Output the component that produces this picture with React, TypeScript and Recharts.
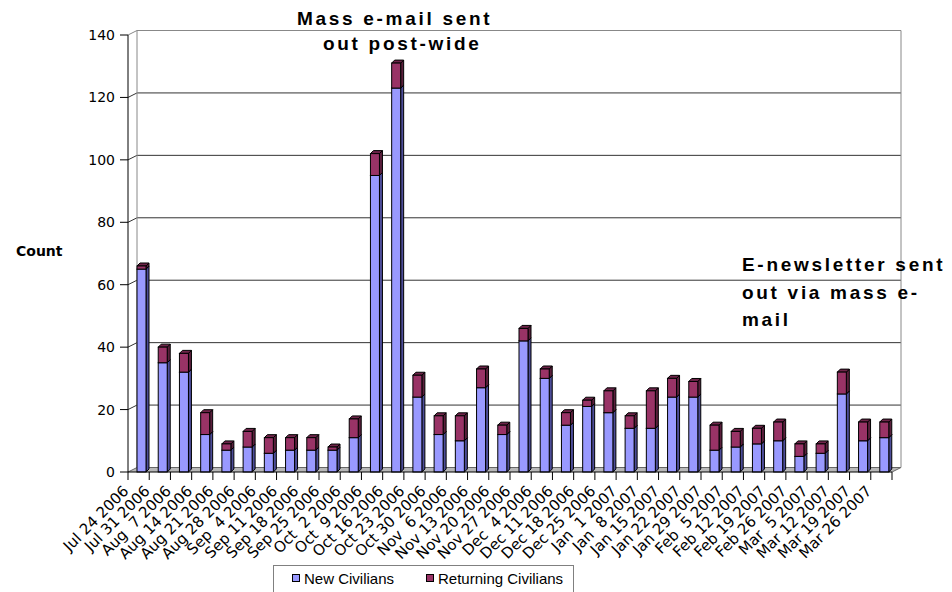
import React from "react"
import {
  Bar,
  BarChart,
  CartesianGrid,
  Customized,
  Legend,
  XAxis,
  YAxis,
} from "recharts"

// Weekly sign-ups, split into new and returning civilians.
const weeks = [
  "Jul 24 2006", "Jul 31 2006", "Aug  7 2006", "Aug 14 2006", "Aug 21 2006",
  "Aug 28 2006", "Sep  4 2006", "Sep 11 2006", "Sep 18 2006", "Sep 25 2006",
  "Oct  2 2006", "Oct  9 2006", "Oct 16 2006", "Oct 23 2006", "Oct 30 2006",
  "Nov  6 2006", "Nov 13 2006", "Nov 20 2006", "Nov 27 2006", "Dec  4 2006",
  "Dec 11 2006", "Dec 18 2006", "Dec 25 2006", "Jan  1 2007", "Jan  8 2007",
  "Jan 15 2007", "Jan 22 2007", "Jan 29 2007", "Feb  5 2007", "Feb 12 2007",
  "Feb 19 2007", "Feb 26 2007", "Mar  5 2007", "Mar 12 2007", "Mar 19 2007",
  "Mar 26 2007",
]
const newCivilians = [
  65, 35, 32, 12, 7, 8, 6, 7, 7, 7, 11, 95, 123, 24, 12, 10, 27, 12, 42, 30,
  15, 21, 19, 14, 14, 24, 24, 7, 8, 9, 10, 5, 6, 25, 10, 11,
]
const returningCivilians = [
  1, 5, 6, 7, 2, 5, 5, 4, 4, 1, 6, 7, 8, 7, 6, 8, 6, 3, 4, 3,
  4, 2, 7, 4, 12, 6, 5, 8, 5, 5, 6, 4, 3, 7, 6, 5,
]
const countTicks = [0, 20, 40, 60, 80, 100, 120, 140]
const massMailNote = ["Mass e-mail sent", "out post-wide"]
const newsletterNote = ["E-newsletter sent", "out via mass e-", "mail"]

const data = weeks.map((week, i) => ({
  week,
  newCivilians: newCivilians[i],
  returningCivilians: returningCivilians[i],
}))

const W = 952
const H = 592
const PLOT_LEFT = 128
const PLOT_RIGHT = 892
const PLOT_TOP = 35
const PLOT_BOTTOM = 472
const DEPTH_X = 9
const DEPTH_Y = -4.5
const BAND = (PLOT_RIGHT - PLOT_LEFT) / weeks.length

const NEW_COLOR = "#9999ff"
const RET_COLOR = "#993366"

const tickFont = { fontFamily: "DejaVu Sans", fontSize: 14, fill: "#000" }
const noteStyle = {
  fontFamily: "Liberation Sans",
  fontWeight: 700,
  fontSize: 19,
  letterSpacing: 2.7,
  fill: "#000",
}

// back-wall gridline, with floor and walls on the bottom/top lines
function wallLine(props: any) {
  const { x1, x2, y1 } = props
  const bx = x1 + DEPTH_X
  const rx = x2 + DEPTH_X
  const by = y1 + DEPTH_Y
  if (Math.abs(y1 - PLOT_BOTTOM) < 1) {
    return (
      <g key={`grid-${y1}`}>
        <polygon
          points={`${x1},${y1} ${x2},${y1} ${rx},${by} ${bx},${by}`}
          fill="#b8b8b8"
        />
        <polyline
          points={`${x1},${y1} ${bx},${by} ${rx},${by} ${x2},${y1}`}
          fill="none"
          stroke="#666"
        />
      </g>
    )
  }
  if (Math.abs(y1 - PLOT_TOP) < 1) {
    return (
      <g key={`grid-${y1}`} fill="none" stroke="#888">
        <polyline points={`${x1},${y1} ${bx},${by} ${rx},${by}`} />
        <line x1={bx} y1={by} x2={bx} y2={PLOT_BOTTOM + DEPTH_Y} />
        <line x1={rx} y1={by} x2={rx} y2={PLOT_BOTTOM + DEPTH_Y} />
      </g>
    )
  }
  return (
    <polyline
      key={`grid-${y1}`}
      points={`${x1},${y1} ${bx},${by} ${rx},${by}`}
      fill="none"
      stroke="#333"
    />
  )
}

function bar3d(side: string, top: string) {
  return (props: any) => {
    const { x, y, width, height, fill } = props
    if (!height || height <= 0) return <g />
    const X = x + 3
    const d = 3
    return (
      <g stroke="#000" strokeWidth={1}>
        <path d={`M${X + width},${y} l${d},${-d} v${height} l${-d},${d} z`} fill={side} />
        <path d={`M${X},${y} l${d},${-d} h${width} l${-d},${d} z`} fill={top} />
        <rect x={X} y={y} width={width} height={height} fill={fill} />
      </g>
    )
  }
}

function WeekTick(props: any) {
  const { x, y, payload, index } = props
  const left = x - BAND / 2
  return (
    <g>
      <line x1={left} y1={y - 8} x2={left} y2={y} stroke="#000" />
      {index === weeks.length - 1 && (
        <line x1={x + BAND / 2} y1={y - 8} x2={x + BAND / 2} y2={y} stroke="#000" />
      )}
      <text
        transform={`translate(${x - 9},${y + 12}) rotate(-45)`}
        textAnchor="end"
        style={{ whiteSpace: "pre" }}
        {...tickFont}
        fontSize={15}
      >
        {payload.value}
      </text>
    </g>
  )
}

function LegendBox(props: any) {
  const items = props.payload || []
  return (
    <div
      style={{
        width: 301,
        height: 30,
        boxSizing: "border-box",
        border: "1px solid #808080",
        background: "#fff",
        display: "flex",
        alignItems: "center",
        paddingLeft: 18,
        paddingBottom: 4,
        fontFamily: "Liberation Sans",
        fontSize: 15,
        color: "#000",
      }}
    >
      {items.map((item: any, i: number) => (
        <span
          key={item.value}
          style={{ display: "flex", alignItems: "center", marginRight: i === 0 ? 32 : 0 }}
        >
          <span
            style={{
              width: 8,
              height: 8,
              boxSizing: "border-box",
              border: "1px solid #000",
              background: item.color,
              marginRight: 4,
            }}
          />
          {item.value}
        </span>
      ))}
    </div>
  )
}

function Notes() {
  return (
    <g>
      {massMailNote.map((line, i) => (
        <text key={line} x={i === 0 ? 297 : 323} y={25 + i * 25} {...noteStyle}>
          {line}
        </text>
      ))}
      {newsletterNote.map((line, i) => (
        <text key={line} x={742} y={271 + i * 27.5} {...noteStyle}>
          {line}
        </text>
      ))}
    </g>
  )
}

export default function App() {
  return (
    <div
      style={{
        position: "absolute",
        left: 0,
        top: 0,
        width: W,
        height: H,
        overflow: "hidden",
        background: "#fff",
      }}
    >
      <BarChart
        width={W}
        height={H}
        data={data}
        margin={{ top: PLOT_TOP, right: W - PLOT_RIGHT, bottom: 0, left: 0 }}
        barSize={9}
      >
        <CartesianGrid vertical={false} horizontal={wallLine} />
        <XAxis
          dataKey="week"
          height={H - PLOT_BOTTOM}
          interval={0}
          tick={<WeekTick />}
          tickLine={false}
          tickSize={8}
          tickMargin={0}
          axisLine={{ stroke: "#000" }}
        />
        <YAxis
          width={PLOT_LEFT}
          domain={[0, 140]}
          ticks={countTicks}
          interval={0}
          tick={tickFont}
          tickSize={8}
          tickMargin={5}
          tickLine={{ stroke: "#000" }}
          axisLine={{ stroke: "#000" }}
          label={{
            value: "Count",
            position: "insideLeft",
            offset: 16,
            dy: -2,
            style: {
              fontFamily: "DejaVu Sans",
              fontWeight: 700,
              fontSize: 14,
              fill: "#000",
            },
          }}
        />
        <Bar
          dataKey="newCivilians"
          name="New Civilians"
          stackId="a"
          fill={NEW_COLOR}
          shape={bar3d("#4d4d99", "#7a7acc")}
          isAnimationActive={false}
        />
        <Bar
          dataKey="returningCivilians"
          name="Returning Civilians"
          stackId="a"
          fill={RET_COLOR}
          shape={bar3d("#5a1f3c", "#6e2449")}
          isAnimationActive={false}
        />
        <Customized component={Notes} />
        <Legend
          layout="horizontal"
          verticalAlign="middle"
          align="center"
          content={<LegendBox />}
          wrapperStyle={{ left: 273, top: 565, width: 301, height: 30 }}
        />
      </BarChart>
    </div>
  )
}
